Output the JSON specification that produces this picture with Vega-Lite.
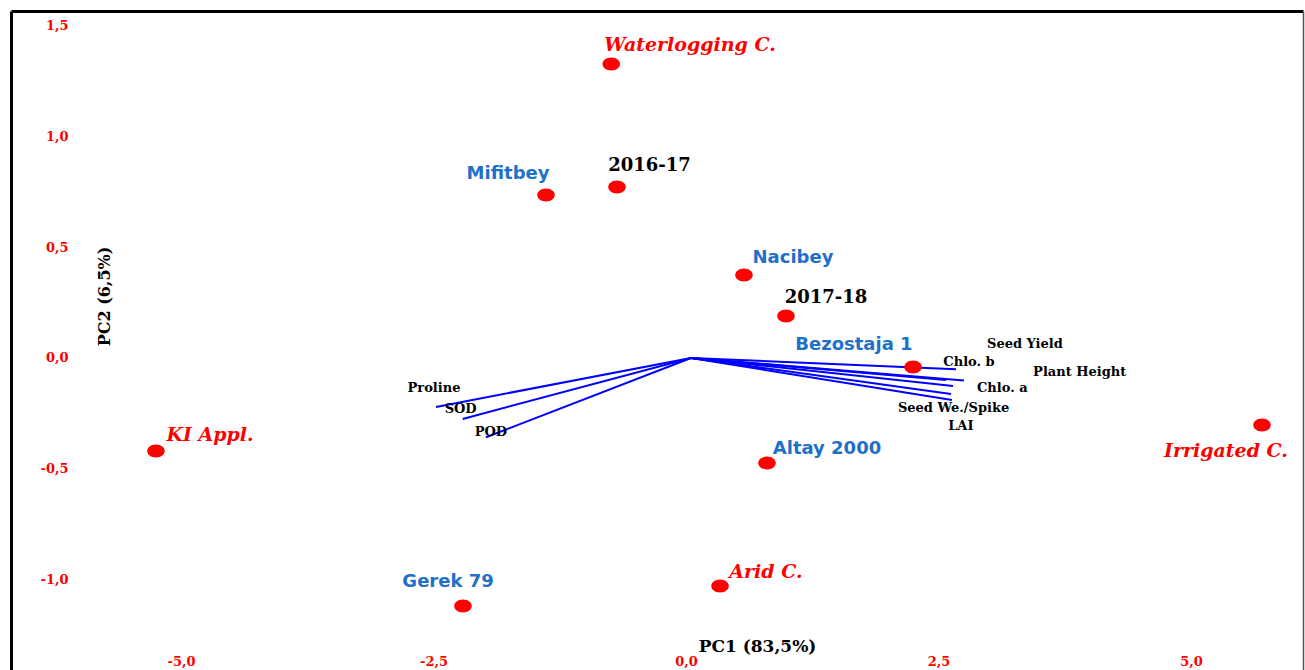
{
  "$schema": "https://vega.github.io/schema/vega-lite/v6.json",
  "width": 1292,
  "height": 659,
  "autosize": {"type": "none"},
  "padding": {"left": 11, "top": 11, "right": 2, "bottom": 0},
  "background": "white",
  "config": {"view": {"stroke": null}},
  "datasets": {
    "obs": [
      {"name": "Waterlogging C.", "kind": "env", "x": -0.74, "y": 1.327, "lx": 0.04, "ly": 1.413},
      {"name": "Mifitbey", "kind": "cultivar", "x": -1.386, "y": 0.736, "lx": -1.762, "ly": 0.831},
      {"name": "2016-17", "kind": "year", "x": -0.683, "y": 0.772, "lx": -0.361, "ly": 0.867},
      {"name": "Nacibey", "kind": "cultivar", "x": 0.574, "y": 0.375, "lx": 1.059, "ly": 0.451},
      {"name": "2017-18", "kind": "year", "x": 0.99, "y": 0.19, "lx": 1.386, "ly": 0.271},
      {"name": "Bezostaja 1", "kind": "cultivar", "x": 2.248, "y": -0.041, "lx": 1.663, "ly": 0.059},
      {"name": "KI Appl.", "kind": "env", "x": -5.248, "y": -0.42, "lx": -4.713, "ly": -0.348},
      {"name": "Irrigated C.", "kind": "env", "x": 5.703, "y": -0.302, "lx": 5.347, "ly": -0.42},
      {"name": "Altay 2000", "kind": "cultivar", "x": 0.802, "y": -0.474, "lx": 1.396, "ly": -0.411},
      {"name": "Gerek 79", "kind": "cultivar", "x": -2.208, "y": -1.12, "lx": -2.356, "ly": -1.011},
      {"name": "Arid C.", "kind": "env", "x": 0.337, "y": -1.029, "lx": 0.792, "ly": -0.966}
    ],
    "vec": [
      {"trait": "Proline", "x0": 0.05, "y0": 0, "x": -2.475, "y": -0.221, "lx": -2.495, "ly": -0.134},
      {"trait": "SOD", "x0": 0.05, "y0": 0, "x": -2.211, "y": -0.275, "lx": -2.231, "ly": -0.232},
      {"trait": "POD", "x0": 0.05, "y0": 0, "x": -1.98, "y": -0.358, "lx": -1.931, "ly": -0.333},
      {"trait": "Chlo. b", "x0": 0.05, "y0": 0, "x": 2.673, "y": -0.051, "lx": 2.802, "ly": -0.019},
      {"trait": "Plant Height", "x0": 0.05, "y0": 0, "x": 2.752, "y": -0.102, "lx": 3.898, "ly": -0.065},
      {"trait": "Seed Yield", "x0": 0.05, "y0": 0, "x": 2.574, "y": -0.099, "lx": 3.356, "ly": 0.062},
      {"trait": "Chlo. a", "x0": 0.05, "y0": 0, "x": 2.644, "y": -0.126, "lx": 3.132, "ly": -0.134},
      {"trait": "Seed We./Spike", "x0": 0.05, "y0": 0, "x": 2.624, "y": -0.163, "lx": 2.649, "ly": -0.224},
      {"trait": "LAI", "x0": 0.05, "y0": 0, "x": 2.634, "y": -0.19, "lx": 2.721, "ly": -0.307}
    ]
  },
  "resolve": {"axis": {"x": "independent", "y": "independent"}},
  "layer": [
    {
      "data": {"name": "obs"},
      "mark": {"type": "point", "opacity": 0},
      "encoding": {
        "x": {"field": "x", "type": "quantitative",
          "scale": {"domain": [-6.683, 6.109], "zero": false, "nice": false},
          "axis": {"orient": "top", "labels": false, "ticks": false, "grid": false, "title": null,
            "domain": true, "domainColor": "black", "domainWidth": 3}},
        "y": {"field": "y", "type": "quantitative",
          "scale": {"domain": [-1.4086, 1.5666], "zero": false, "nice": false},
          "axis": {"orient": "right", "labels": false, "ticks": false, "grid": false, "title": null,
            "domain": true, "domainColor": "#555555", "domainWidth": 1.5}}
      }
    },
    {
      "layer": [
        {
          "data": {"name": "vec"},
          "mark": {"type": "rule", "color": "#0000FF", "strokeWidth": 2},
          "encoding": {
            "x": {"field": "x0", "type": "quantitative",
              "scale": {"domain": [-6.683, 6.109], "zero": false, "nice": false},
              "axis": {"orient": "bottom", "domain": false, "ticks": false, "tickSize": 0, "grid": false,
                "values": [-5, -2.5, 0, 2.5, 5],
                "labelExpr": "replace(replace(format(datum.value, '.1f'), '.', ','), '\u2212', '-')",
                "labelColor": "#FF0000", "labelFont": "DejaVu Serif", "labelFontWeight": "bold", "labelFontSize": 13,
                "labelPadding": -9, "labelBaseline": "middle", "labelFlush": false, "labelOverlap": false,
                "title": "PC1 (83,5%)", "titleFont": "DejaVu Serif", "titleFontWeight": "bold", "titleFontSize": 17,
                "titleColor": "black", "titleX": 746, "titleY": -24, "titleBaseline": "middle", "titleAlign": "center"}},
            "y": {"field": "y0", "type": "quantitative",
              "scale": {"domain": [-1.4086, 1.5666], "zero": false, "nice": false},
              "axis": {"orient": "left", "domain": true, "domainColor": "black", "domainWidth": 3,
                "ticks": false, "tickSize": 0, "grid": false,
                "values": [-1, -0.5, 0, 0.5, 1, 1.5],
                "labelExpr": "replace(replace(format(datum.value, '.1f'), '.', ','), '\u2212', '-')",
                "labelColor": "#FF0000", "labelFont": "DejaVu Serif", "labelFontWeight": "bold", "labelFontSize": 13,
                "labelPadding": -57, "labelAlign": "right", "labelBaseline": "middle", "labelFlush": false, "labelOverlap": false,
                "title": "PC2 (6,5%)", "titleFont": "DejaVu Serif", "titleFontWeight": "bold", "titleFontSize": 16,
                "titleColor": "black", "titleX": 93, "titleY": 285, "titleAngle": 270, "titleBaseline": "middle", "titleAlign": "center"}},
            "x2": {"field": "x"},
            "y2": {"field": "y"}
          }
        },
        {
          "data": {"name": "vec"},
          "mark": {"type": "text", "font": "DejaVu Serif", "fontWeight": "bold", "fontSize": 13, "color": "black", "align": "center", "baseline": "middle"},
          "encoding": {
            "x": {"field": "lx", "type": "quantitative"},
            "y": {"field": "ly", "type": "quantitative"},
            "text": {"field": "trait"}
          }
        },
        {
          "data": {"name": "obs"},
          "mark": {"type": "point", "filled": true, "opacity": 1, "color": "#FF0000", "size": 169,
            "shape": "M -1.35 0 C -1.35 -0.5523 -0.7456 -1 0 -1 C 0.7456 -1 1.35 -0.5523 1.35 0 C 1.35 0.5523 0.7456 1 0 1 C -0.7456 1 -1.35 0.5523 -1.35 0 Z"},
          "encoding": {
            "x": {"field": "x", "type": "quantitative"},
            "y": {"field": "y", "type": "quantitative"}
          }
        },
        {
          "data": {"name": "obs"},
          "transform": [{"filter": "datum.kind === 'env'"}],
          "mark": {"type": "text", "font": "DejaVu Serif", "fontWeight": "bold", "fontStyle": "italic", "fontSize": 19, "color": "#FF0000", "align": "center", "baseline": "middle"},
          "encoding": {
            "x": {"field": "lx", "type": "quantitative"},
            "y": {"field": "ly", "type": "quantitative"},
            "text": {"field": "name"}
          }
        },
        {
          "data": {"name": "obs"},
          "transform": [{"filter": "datum.kind === 'cultivar'"}],
          "mark": {"type": "text", "font": "DejaVu Sans", "fontWeight": "bold", "fontSize": 18, "color": "#1E70C8", "align": "center", "baseline": "middle"},
          "encoding": {
            "x": {"field": "lx", "type": "quantitative"},
            "y": {"field": "ly", "type": "quantitative"},
            "text": {"field": "name"}
          }
        },
        {
          "data": {"name": "obs"},
          "transform": [{"filter": "datum.kind === 'year'"}],
          "mark": {"type": "text", "font": "DejaVu Serif", "fontWeight": "bold", "fontSize": 18, "color": "black", "align": "center", "baseline": "middle"},
          "encoding": {
            "x": {"field": "lx", "type": "quantitative"},
            "y": {"field": "ly", "type": "quantitative"},
            "text": {"field": "name"}
          }
        }
      ]
    }
  ]
}
